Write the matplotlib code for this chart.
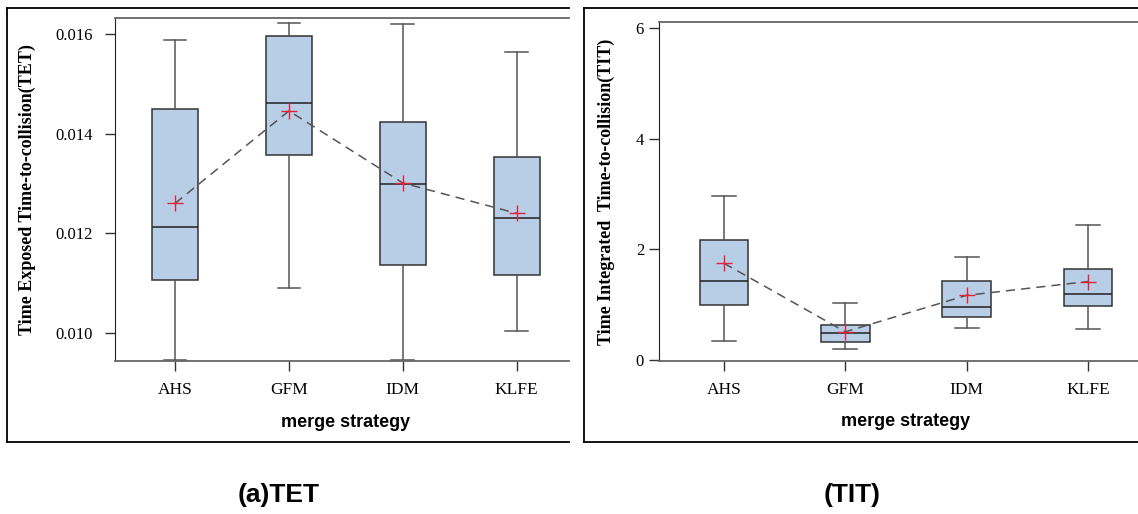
import matplotlib
matplotlib.use("Agg")
import matplotlib.pyplot as plt
from matplotlib.lines import Line2D

strategies = ["AHS", "GFM", "IDM", "KLFE"]

# TET box statistics
tet_whislo = [0.00945, 0.01089, 0.00945, 0.01003]
tet_q1 = [0.01106, 0.01357, 0.01137, 0.01116]
tet_med = [0.01213, 0.01461, 0.01300, 0.01230]
tet_q3 = [0.01450, 0.01596, 0.01424, 0.01354]
tet_whishi = [0.01589, 0.01623, 0.01620, 0.01565]
tet_mean = [0.01260, 0.01446, 0.01301, 0.01240]

# TIT box statistics
tit_whislo = [0.35, 0.20, 0.57, 0.56]
tit_q1 = [0.99, 0.33, 0.77, 0.98]
tit_med = [1.43, 0.48, 0.96, 1.19]
tit_q3 = [2.17, 0.63, 1.43, 1.64]
tit_whishi = [2.97, 1.04, 1.86, 2.44]
tit_mean = [1.75, 0.51, 1.17, 1.42]

W, H = 1138, 514
fig = plt.figure(figsize=(W / 100, H / 100), dpi=100)

serif = ["Liberation Serif", "DejaVu Serif"]
sans = ["Liberation Sans", "DejaVu Sans"]
box_face = "#b8cde6"
dark = "#333333"


def draw_panel(ax, lo, q1, med, q3, hi, mean, ylabel, xlim, ylim, yticks, ytl,
               ylab_x, xlab_x, ypad):
    stats = []
    for i in range(len(strategies)):
        stats.append(dict(whislo=lo[i], q1=q1[i], med=med[i], q3=q3[i],
                          whishi=hi[i], fliers=[], label=strategies[i]))
    pos = list(range(len(strategies)))
    ax.bxp(stats, positions=pos, widths=0.4, patch_artist=True, showfliers=False,
           boxprops=dict(facecolor=box_face, edgecolor=dark, linewidth=1.1),
           medianprops=dict(color="#222222", linewidth=1.1),
           whiskerprops=dict(color="#555555", linewidth=1.1),
           capprops=dict(color="#555555", linewidth=1.1),
           capwidths=0.2)
    ax.plot(pos, mean, linestyle=(0, (6, 4)), color="#555555", linewidth=1.1, zorder=4)
    ax.plot(pos, mean, linestyle="none", marker="+", markersize=12,
            markeredgewidth=1.0, color="#e8203a", zorder=5)
    ax.set_xlim(*xlim)
    ax.set_ylim(*ylim)
    ax.set_yticks(yticks)
    ax.set_yticklabels(ytl, fontfamily=serif, fontsize=12)
    ax.set_xticks(pos)
    ax.set_xticklabels(strategies, fontfamily=serif, fontsize=12.5)
    ax.tick_params(axis="both", direction="out", length=7, width=1, color="#333333")
    ax.tick_params(axis="y", pad=ypad)
    ax.tick_params(axis="x", pad=8)
    ax.spines["right"].set_visible(False)
    ax.spines["left"].set_color("#222222")
    for s in ["top", "bottom"]:
        ax.spines[s].set_color("#666666")
        ax.spines[s].set_linewidth(1.3)
    ax.set_ylabel(ylabel, fontfamily=serif, fontweight="bold", fontsize=13, va="center")
    ax.yaxis.set_label_coords(ylab_x, 0.5)
    ax.set_xlabel("merge strategy", fontfamily=sans, fontweight="bold", fontsize=13, va="center")
    ax.xaxis.set_label_coords(xlab_x, -0.179)


# left panel
ax1 = fig.add_axes([115 / W, (H - 361) / H, (569 - 115) / W, (361 - 18.3) / H])
draw_panel(ax1, tet_whislo, tet_q1, tet_med, tet_q3, tet_whishi, tet_mean,
           "Time Exposed Time-to-collision(TET)",
           (-0.527, 3.459), (0.009431, 0.016322),
           [0.010, 0.012, 0.014, 0.016], ["0.010", "0.012", "0.014", "0.016"],
           -0.194, 0.5086, 9)

# right panel
ax2 = fig.add_axes([659.3 / W, (H - 361) / H, (W - 659.3) / W, (361 - 22.3) / H])
draw_panel(ax2, tit_whislo, tit_q1, tit_med, tit_q3, tit_whishi, tit_mean,
           "Time Integrated  Time-to-collision(TIT)",
           (-0.533, 3.412), (-0.018, 6.109),
           [0, 2, 4, 6], ["0", "2", "4", "6"],
           -0.11, 0.515, 4)

# outer frames (cropped on the right side)
def fline(x0, y0, x1, y1):
    fig.add_artist(Line2D([x0 / W, x1 / W], [1 - y0 / H, 1 - y1 / H],
                          color="black", linewidth=1.3))

fline(7, 8.3, 569, 8.3)
fline(7, 442, 569, 442)
fline(7, 8.3, 7, 442)
fline(583.7, 8.3, W, 8.3)
fline(583.7, 442, W, 442)
fline(583.7, 8.3, 583.7, 442)

fig.text(279 / W, 1 - 495 / H, "(a)TET", fontfamily=sans, fontweight="bold",
         fontsize=19, ha="center", va="center")
fig.text(852 / W, 1 - 495 / H, "(TIT)", fontfamily=sans, fontweight="bold",
         fontsize=19, ha="center", va="center")

fig.savefig("out.png", dpi=100)
